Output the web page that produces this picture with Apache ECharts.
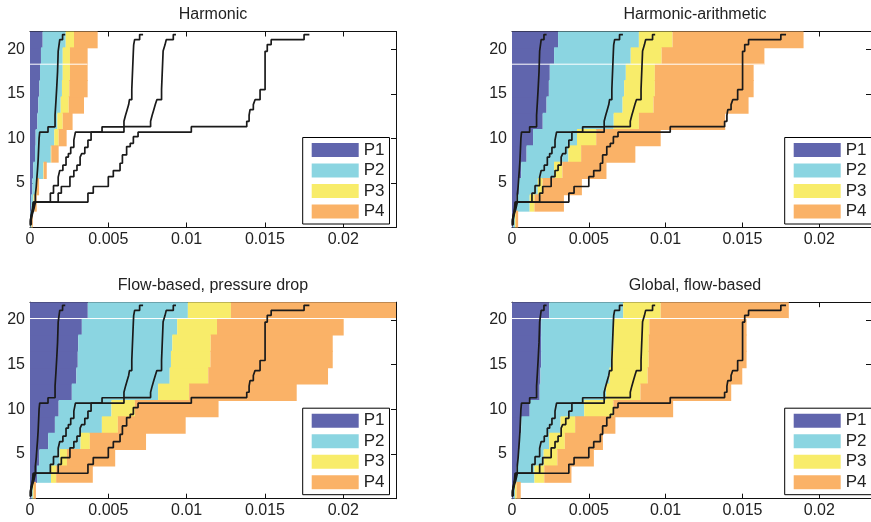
<!DOCTYPE html>
<html>
<head>
<meta charset="utf-8">
<script src="https://cdn.jsdelivr.net/npm/echarts@6/dist/echarts.min.js"></script>
<style>html,body{margin:0;padding:0;background:#fff}#c{width:871px;height:522px}</style>
</head>
<body>
<div id="c"></div>
<script>
// ---------- data ----------
const titles = ['Harmonic', 'Harmonic-arithmetic', 'Flow-based, pressure drop', 'Global, flow-based'];
const parts = ['P1', 'P2', 'P3', 'P4'];
const bands = ['1','2','3','4','5','6','7','8','9','10','11','12'];
const xTickLabels = ['0', '0.005', '0.01', '0.015', '0.02'];
const yTickLabels = ['', '5', '10', '15', '20'];

// cumulative right edges of the stacked bars, bottom band first
const harmP1 = [0.00003,0.00006,0.00015,0.00021,0.00032,0.00036,0.00047,0.00053,0.00060,0.00064,0.00070,0.00081];
const harmP2 = [0.00010,0.00022,0.00038,0.00085,0.00133,0.00155,0.00175,0.00196,0.00204,0.00209,0.00209,0.00228];
const harmP3 = [0.00013,0.00028,0.00043,0.00088,0.00136,0.00183,0.00209,0.00247,0.00251,0.00255,0.00255,0.00281];
const harmP4 = [0.00018,0.00043,0.00058,0.00107,0.00183,0.00234,0.00272,0.00345,0.00368,0.00368,0.00368,0.00432];

const haP1 = [0.00008,0.00030,0.00045,0.00060,0.00095,0.00137,0.00200,0.00225,0.00240,0.00246,0.00274,0.00300];
const haP2 = [0.00019,0.00115,0.00168,0.00274,0.00367,0.00423,0.00662,0.00720,0.00730,0.00741,0.00773,0.00826];
const haP3 = [0.00025,0.00146,0.00199,0.00328,0.00450,0.00548,0.00826,0.00921,0.00930,0.00930,0.00974,0.01045];
const haP4 = [0.00040,0.00338,0.00455,0.00615,0.00803,0.00968,0.01388,0.01540,0.01573,0.01573,0.01643,0.01898];

const fbP1 = [0.00009,0.00045,0.00060,0.00116,0.00159,0.00183,0.00267,0.00296,0.00305,0.00308,0.00331,0.00369];
const fbP2 = [0.00018,0.00134,0.00190,0.00323,0.00459,0.00520,0.00818,0.00892,0.00900,0.00909,0.00940,0.01008];
const fbP3 = [0.00024,0.00167,0.00236,0.00382,0.00561,0.00670,0.01016,0.01138,0.01152,0.01154,0.01194,0.01283];
const fbP4 = [0.00038,0.00401,0.00544,0.00741,0.00994,0.01204,0.01703,0.01903,0.01933,0.01933,0.02003,0.02337];

const gfP1 = [0.00010,0.00030,0.00040,0.00050,0.00060,0.00115,0.00180,0.00185,0.00190,0.00190,0.00190,0.00242];
const gfP2 = [0.00020,0.00146,0.00206,0.00242,0.00316,0.00470,0.00613,0.00635,0.00645,0.00660,0.00660,0.00724];
const gfP3 = [0.00030,0.00210,0.00295,0.00344,0.00411,0.00660,0.00836,0.00883,0.00890,0.00890,0.00894,0.00968];
const gfP4 = [0.00057,0.00387,0.00533,0.00592,0.00673,0.01049,0.01427,0.01499,0.01527,0.01527,0.01527,0.01802];

// white seam between two bands (y level, right end)
const seamY = [18.33, 18.33, 20.17, 20.17];
const seamXEnd = [0.00368, 0.01643, 0.02337, 0.01802];

// black step curves [x, y] (same in all panels)
const curveA = [[0.00003,0.2],[0.00008,0.7],[0.00015,1.3],[0.0002,1.9],[0.00034,2.85],[0.0004,3.6],[0.00044,4.6],[0.00048,5.6],[0.00052,6.5],[0.00055,7.6],[0.00058,8.8],[0.00062,10.0],[0.00115,10.7],[0.0016,11.3],[0.00166,12.6],[0.0017,14.3],[0.00176,15.5],[0.0018,17.5],[0.0019,19.8],[0.00208,21.08],[0.00225,21.65]];
const curveB = [[0.00003,0.3],[0.0001,0.9],[0.00018,1.5],[0.00025,2.1],[0.0013,2.85],[0.0015,3.85],[0.0018,4.7],[0.0019,5.65],[0.0021,6.4],[0.0023,7.0],[0.00245,7.9],[0.0026,8.3],[0.0028,9.0],[0.0029,9.8],[0.0046,10.7],[0.006,11.3],[0.0061,11.92],[0.0062,12.6],[0.0063,13.2],[0.00635,13.8],[0.0065,14.35],[0.0066,15.5],[0.00662,19.8],[0.00668,20.5],[0.0070,21.08],[0.00722,21.65]];
const curveC = [[0.00005,0.3],[0.00012,0.9],[0.0002,1.5],[0.0003,2.1],[0.0018,2.85],[0.0020,3.85],[0.00255,4.6],[0.0028,5.7],[0.0030,6.4],[0.0032,7.0],[0.0033,7.9],[0.0035,8.3],[0.0037,9.0],[0.0039,9.8],[0.006,10.7],[0.0077,11.32],[0.0078,11.92],[0.0079,12.6],[0.0080,13.2],[0.0081,13.8],[0.0084,14.35],[0.0085,15.5],[0.00862,19.8],[0.0087,20.5],[0.00915,21.08],[0.00932,21.65]];
const curveD = [[0.00008,0.3],[0.00015,0.9],[0.00025,1.5],[0.00035,2.1],[0.0037,2.85],[0.00404,3.85],[0.0050,4.6],[0.00532,5.71],[0.00575,6.39],[0.0059,7.21],[0.00617,8.15],[0.0064,9.08],[0.0066,9.45],[0.0069,10.2],[0.0103,10.7],[0.01384,11.32],[0.01399,11.92],[0.01405,12.6],[0.01426,13.23],[0.01437,13.79],[0.01469,14.35],[0.01501,15.47],[0.01515,19.78],[0.0154,20.53],[0.0175,21.08],[0.01784,21.65]];

// ---------- layout / style ----------
const panels = [
  {edges:[harmP1,harmP2,harmP3,harmP4], left:30,  top:31.5,  w:366, h:196},
  {edges:[haP1,haP2,haP3,haP4],         left:512, top:31.5,  w:366, h:196},
  {edges:[fbP1,fbP2,fbP3,fbP4],         left:30,  top:302.2, w:366, h:196.5},
  {edges:[gfP1,gfP2,gfP3,gfP4],         left:512, top:302.2, w:366, h:196.5}
];
const colors = ['#6065ad', '#8bd5e1', '#f8ec6a', '#fab267'];
const curves = [curveA, curveB, curveC, curveD];
const XMAX = 0.02337, YMAX = 22;
const FONT = '"Liberation Sans", Arial, Helvetica, sans-serif';
const TXT = '#222';

const grid = [], xAxis = [], yAxis = [], series = [], legend = [], graphic = [];
panels.forEach((p, i) => {
  grid.push({left:p.left, top:p.top, width:p.w, height:p.h, containLabel:false});
  const axisCommon = {
    type:'value', gridIndex:i, min:0, max:XMAX, interval:0.005,
    axisLine:{show:true, onZero:false, lineStyle:{color:'#111', width:1}},
    axisTick:{show:true, inside:true, length:5, lineStyle:{color:'#111', width:1}},
    splitLine:{show:false}
  };
  xAxis.push(Object.assign({}, axisCommon, {position:'bottom',
    axisLabel:{show:true, fontSize:16, fontFamily:FONT, color:TXT, margin:4, showMaxLabel:false,
      formatter: v => { const k = Math.round(v / 0.005); return Math.abs(v - k*0.005) < 1e-9 ? (xTickLabels[k] || '') : ''; }}}));
  xAxis.push(Object.assign({}, axisCommon, {position:'top', axisLabel:{show:false}}));
  yAxis.push({type:'category', gridIndex:i, data:bands, show:false, boundaryGap:true});
  const yCommon = {
    type:'value', gridIndex:i, min:0, max:YMAX, interval:5,
    axisLine:{show:true, onZero:false, lineStyle:{color:'#111', width:1}},
    axisTick:{show:true, inside:true, length:5, lineStyle:{color:'#111', width:1}},
    splitLine:{show:false}
  };
  yAxis.push(Object.assign({}, yCommon, {position:'left',
    axisLabel:{show:true, fontSize:16, fontFamily:FONT, color:TXT, margin:5, showMinLabel:false, showMaxLabel:false,
      formatter: v => (v % 5 === 0 ? (yTickLabels[v/5] || '') : '')}}));
  yAxis.push(Object.assign({}, yCommon, {position:'right', axisLabel:{show:false}}));

  const xi = 2*i, yc = 3*i, yv = 3*i + 1;
  p.edges.forEach((edge, j) => {
    const prev = j === 0 ? null : p.edges[j-1];
    series.push({
      type:'bar', name:parts[j], xAxisIndex:xi, yAxisIndex:yc, stack:'s'+i,
      barWidth:'106%',
      itemStyle:{color:colors[j]},
      data: edge.map((e, k) => +(e - (prev ? prev[k] : 0)).toFixed(6)),
      animation:false, silent:true
    });
  });
  series.push({
    type:'line', xAxisIndex:xi, yAxisIndex:yv, symbol:'none',
    data:[[0, seamY[i]], [seamXEnd[i], seamY[i]]],
    lineStyle:{color:'#fff', width:1}, animation:false, silent:true, z:3
  });
  curves.forEach(c => {
    series.push({
      type:'line', xAxisIndex:xi, yAxisIndex:yv, step:'start', symbol:'none',
      data:c, lineStyle:{color:'#1a1a1a', width:1.7}, animation:false, silent:true, z:4
    });
  });
  legend.push({
    data:parts, orient:'vertical', left:p.left + 272.7, top:p.top + 106,
    itemWidth:47, itemHeight:14, itemGap:3.5, padding:[4,5,4,9],
    borderColor:'#000', borderWidth:1, backgroundColor:'#fff', borderRadius:0,
    icon:'rect', selectedMode:false,
    textStyle:{fontSize:17, fontFamily:FONT, color:TXT}
  });
  graphic.push({
    type:'text', x:p.left + p.w/2, y:p.top - 17,
    style:{text:titles[i], fontSize:16, fontFamily:FONT, fill:TXT, align:'center', verticalAlign:'middle', textAlign:'center', textVerticalAlign:'middle'}
  });
});

const chart = echarts.init(document.getElementById('c'), null, {renderer:'canvas'});
chart.setOption({animation:false, backgroundColor:'#fff', grid, xAxis, yAxis, series, legend, graphic});
</script>
</body>
</html>
